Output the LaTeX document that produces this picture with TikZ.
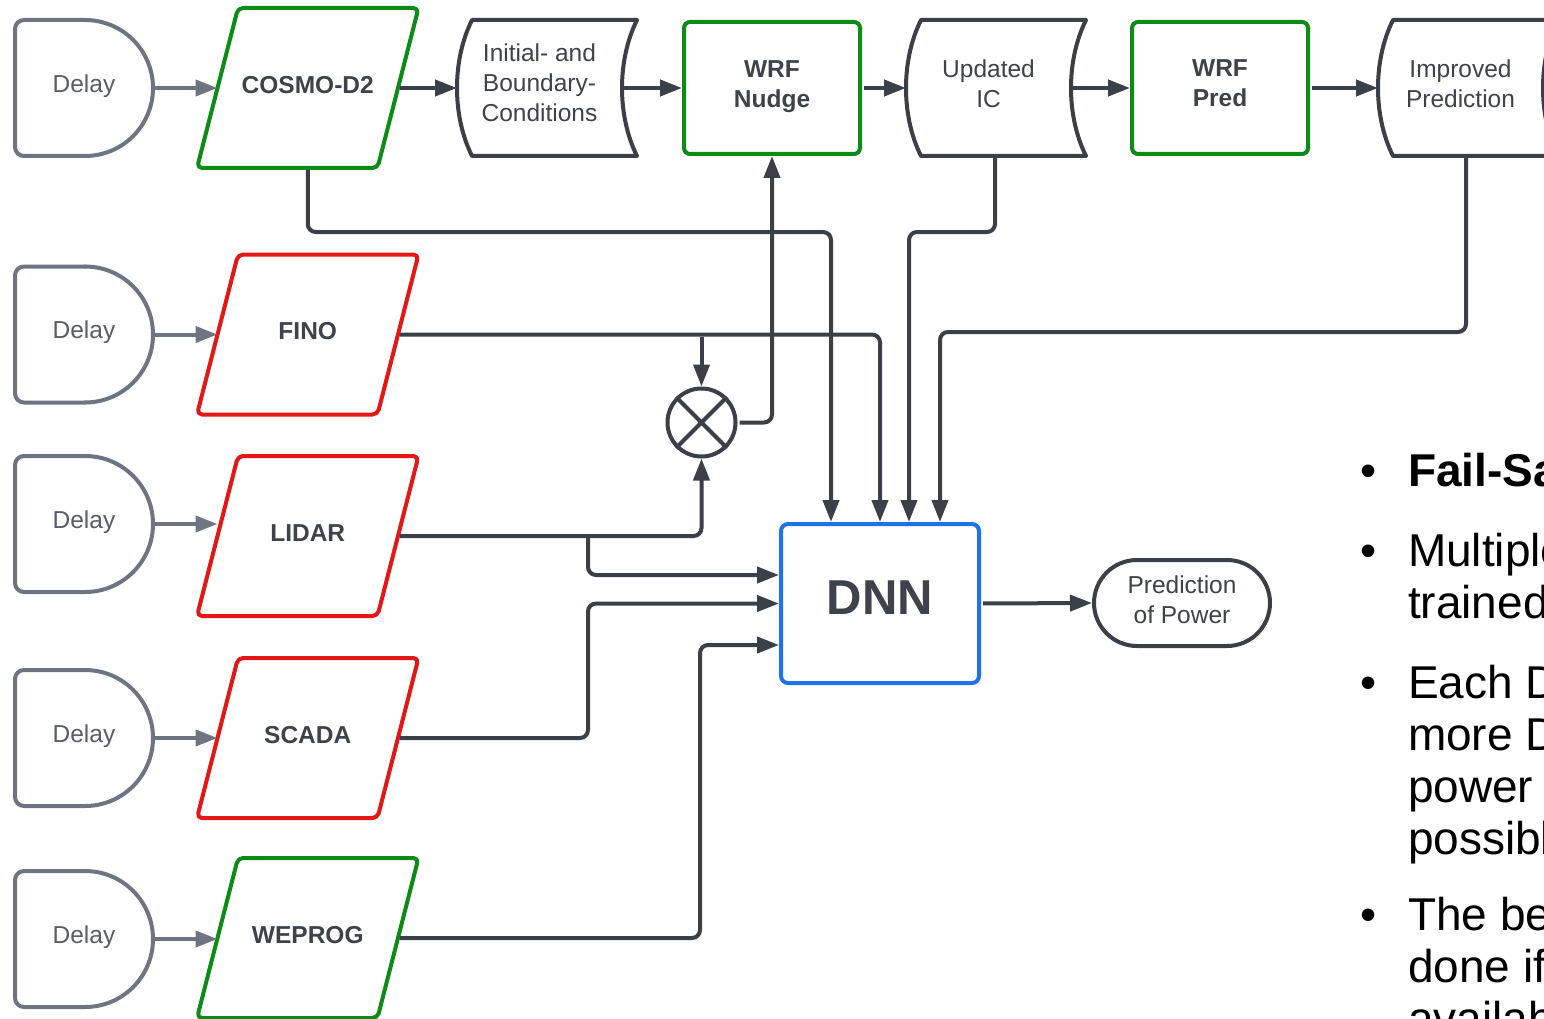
\documentclass[tikz,border=0pt]{standalone}
\usepackage{fontspec}
\setmainfont{Liberation Sans}
\usetikzlibrary{calc,arrows.meta}
\definecolor{linedark}{RGB}{58,63,72}
\definecolor{delaygray}{RGB}{110,116,130}
\definecolor{lgreen}{RGB}{12,140,22}
\definecolor{lred}{RGB}{228,22,22}
\definecolor{lblue}{RGB}{28,116,232}
\definecolor{txt}{RGB}{62,66,75}
\definecolor{delaytxt}{RGB}{88,93,104}

\tikzset{
  lblfont/.style={font=\fontsize{24.5}{30}\selectfont},
  boldfont/.style={font=\fontsize{24.5}{30}\selectfont\bfseries},
  delaybox/.style={minimum width=138pt, minimum height=136pt, inner sep=0pt, outer sep=0pt, lblfont, text=delaytxt, text depth=9pt},
  parabox/.style={minimum width=180.5pt, minimum height=160pt, inner sep=0pt, outer sep=0pt, boldfont, text=txt, text depth=6.5pt},
  storebox/.style={minimum width=165pt, minimum height=136pt, inner sep=0pt, outer sep=0pt},
  storetext/.style={inner sep=0pt, lblfont, text=txt, align=center},
  boldtext/.style={inner sep=0pt, boldfont, text=txt, align=center},
  greenbox/.style={draw=lgreen, line width=4pt, rounded corners=6pt, minimum width=176pt, minimum height=132pt, inner sep=0pt},
  dnnbox/.style={draw=lblue, line width=4pt, rounded corners=7pt, minimum width=198pt, minimum height=159pt, inner sep=0pt, font=\fontsize{49}{55}\selectfont\bfseries, text=txt, text depth=11pt},
  termbox/.style={draw=linedark, line width=4pt, rounded corners=43pt, minimum width=176pt, minimum height=86pt, inner sep=0pt},
  multbox/.style={draw=linedark, line width=4pt, circle, minimum size=68pt, inner sep=0pt},
  delayline/.style={draw=delaygray, line width=4pt, line cap=round, line join=round},
  storeline/.style={draw=linedark, line width=4pt, line cap=round, line join=round},
  paraline/.style={line width=4pt, rounded corners=5pt, line join=round},
  conn/.style={draw=linedark, line width=4pt, rounded corners=8pt, -{Triangle[length=22pt,width=16pt]}, shorten <=2pt},
  grayconn/.style={conn, draw=delaygray, fill=delaygray},
  bul/.style={anchor=base west, inner sep=0pt, outer sep=0pt, font=\fontsize{46}{52}\selectfont, text=black},
  bulbold/.style={bul, font=\fontsize{46}{52}\selectfont\bfseries},
}

\newcommand\drawdelay[1]{%
  \draw[delayline,rounded corners=9pt] ($(#1.north west)+(70,0)$) -- (#1.north west) -- (#1.south west) -- ($(#1.south west)+(70,0)$);
  \draw[delayline] ($(#1.south west)+(70,0)$) .. controls +(37.6,0) and +(0,37.6) .. (#1.east)
     .. controls +(0,-37.6) and +(37.6,0) .. ($(#1.north west)+(70,0)$);
}
\newcommand\drawpara[2]{%
  \draw[paraline,draw=#2] ($(#1.north west)+(20.5,0)$) -- ($(#1.north east)+(20.5,0)$)
     -- ($(#1.south east)+(-20.5,0)$) -- ($(#1.south west)+(-20.5,0)$) -- cycle;
}
\newcommand\drawstore[1]{%
  \draw[storeline] ($(#1.north west)+(15,0)$) -- ($(#1.north east)+(15,0)$)
    .. controls +(-20,40) and +(-20,-40) .. ($(#1.south east)+(15,0)$)
    -- ($(#1.south west)+(15,0)$)
    .. controls +(-20,-40) and +(-20,40) .. ($(#1.north west)+(15,0)$) -- cycle;
}

\begin{document}
\begin{tikzpicture}[x=1pt,y=-1pt]
\useasboundingbox (0,0) rectangle (1544,1019);
\fill[white] (0,0) rectangle (1544,1019);
\clip (0,0) rectangle (1544,1019);

% Delay nodes
\node[delaybox] (d1) at (84,88) {Delay};
\node[delaybox] (d2) at (84,334.5) {Delay};
\node[delaybox] (d3) at (84,524) {Delay};
\node[delaybox] (d4) at (84,738) {Delay};
\node[delaybox] (d5) at (84,939) {Delay};
\foreach \n in {d1,d2,d3,d4,d5}{\drawdelay{\n}}

% Data sources
\node[parabox] (cosmo) at (307.75,88) {COSMO-D2};
\node[parabox] (fino) at (307.75,334.5) {FINO};
\node[parabox] (lidar) at (307.75,536) {LIDAR};
\node[parabox] (scada) at (307.75,738) {SCADA};
\node[parabox] (weprog) at (307.75,938) {WEPROG};
\drawpara{cosmo}{lgreen}
\drawpara{fino}{lred}
\drawpara{lidar}{lred}
\drawpara{scada}{lred}
\drawpara{weprog}{lgreen}

% Top row
\node[storebox] (ibc) at (539.5,88) {};
\node[storetext] (ibct) at (539.5,83) {Initial- and\\Boundary-\\Conditions};
\drawstore{ibc}
\node[greenbox] (nudge) at (772,88) {};
\node[boldtext] (nudget) at (772,87) {WRF\\Nudge};
\node[storebox] (uic) at (988.5,88) {};
\node[storetext] (uict) at (988.5,83.5) {Updated\\IC};
\drawstore{uic}
\node[greenbox] (pred) at (1220,88) {};
\node[boldtext] (predt) at (1220,83.5) {WRF\\Pred};
\node[storebox] (imp) at (1460.5,88) {};
\node[storetext] (impt) at (1460.5,83.5) {Improved\\Prediction};
\drawstore{imp}

% Centre
\node[multbox] (mult) at (701.5,422.5) {};
\draw[draw=linedark, line width=4pt] (mult.north west) -- (mult.south east) (mult.north east) -- (mult.south west);
\node[dnnbox] (dnn) at (880,603.5) {DNN};
\node[termbox] (pop) at (1182,603) {};
\node[storetext] (popt) at (1182,600) {Prediction\\of Power};

% helper coordinates
\coordinate (ljunc) at (588,536);
\coordinate (bendS) at (588,0);
\coordinate (bendW) at (700,0);
\coordinate (upin) at ([yshift=28.5pt]dnn.west);
\coordinate (lowin) at ([yshift=-41.5pt]dnn.west);

% Delay arrows
\draw[grayconn] (d1.east) -- (cosmo.west);
\draw[grayconn] (d2.east) -- (fino.west);
\draw[grayconn] (d3.east) -- (d3.east -| lidar.west);
\draw[grayconn] (d4.east) -- (scada.west);
\draw[grayconn] (d5.east) -- (d5.east -| weprog.west);

% Top row arrows
\draw[conn] (cosmo.east) -- (ibc.west);
\draw[conn] (ibc.east) -- (nudge.west);
\draw[conn] (nudge.east) -- (uic.west);
\draw[conn] (uic.east) -- (pred.west);
\draw[conn] (pred.east) -- (imp.west);

% Into DNN from the top
\draw[conn] (cosmo.center |- cosmo.south) -- ++(0,64) -| ([xshift=-49pt]dnn.north);
\draw[conn] ([xshift=6.5pt]uic.south) -- ++(0,76) -| ([xshift=29pt]dnn.north);
\draw[conn] ([xshift=5.5pt]imp.south) -- ++(0,176) -| ([xshift=60pt]dnn.north);
\draw[conn] (fino.east) -| (dnn.north);
\draw[conn] (fino.east -| mult.center) -- (mult.north);

% Multiplier
\draw[conn] (mult.east) -| (nudge.south);
\draw[conn] (lidar.east) -| (mult.south);
\draw[conn] (ljunc) |- (upin);

% Into DNN from the left
\draw[conn] (scada.east) -| (bendS |- dnn.west) -- (dnn.west);
\draw[conn] (weprog.east) -| (bendW |- lowin) -- (lowin);

% Output
\draw[conn] (dnn.east) -- (pop.west);

% Bullet text
\node[bul] (b1) at (1360,486) {\textbullet};
\node[bulbold] (t1) at (1408,486) {Fail-Safe};
\node[bul] (b2) at (1360,566) {\textbullet};
\node[bul] (t2a) at (1408,566) {Multiple DNNs};
\node[bul] (t2b) at (1408,618) {trained};
\node[bul] (b3) at (1360,698) {\textbullet};
\node[bul] (t3a) at (1408,698) {Each DNN};
\node[bul] (t3b) at (1408,750) {more DNNs};
\node[bul] (t3c) at (1408,802) {power};
\node[bul] (t3d) at (1408,854) {possible};
\node[bul] (b4) at (1360,930) {\textbullet};
\node[bul] (t4a) at (1408,930) {The best};
\node[bul] (t4b) at (1408,982) {done if};
\node[bul] (t4c) at (1408,1034) {available};
\end{tikzpicture}
\end{document}
